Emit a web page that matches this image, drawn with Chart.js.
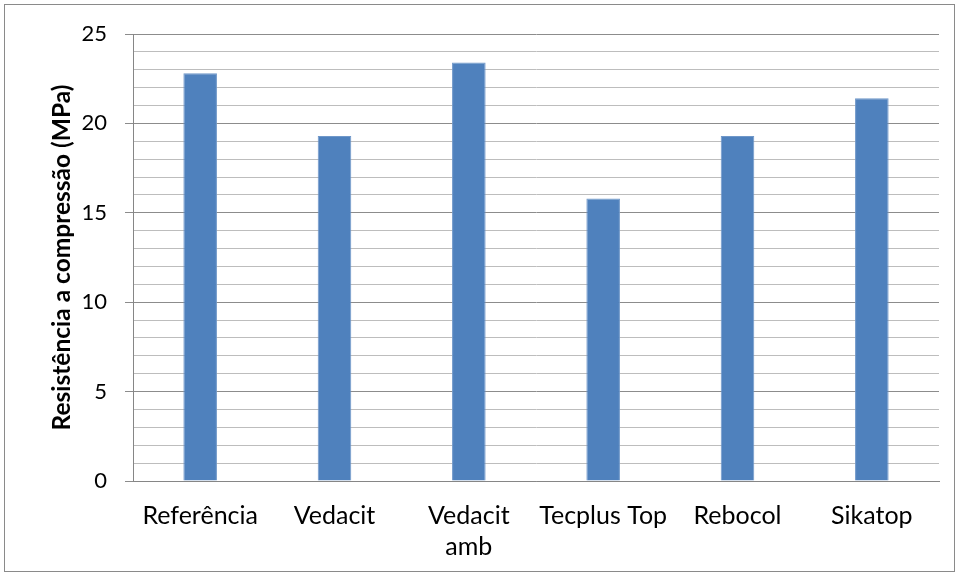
<!DOCTYPE html>
<html>
<head>
<meta charset="utf-8">
<script src="https://cdn.jsdelivr.net/npm/chart.js@4.4.0/dist/chart.umd.min.js"></script>
<style>
  html, body { margin: 0; padding: 0; background: #fff; }
  #wrap { width: 957px; height: 576px; position: relative; }
</style>
</head>
<body>
<div id="wrap"><canvas id="graph-resist"></canvas></div>
<script>
  const categories = ['Referência', 'Vedacit', ['Vedacit', 'amb'], 'Tecplus Top', 'Rebocol', 'Sikatop'];
  const resistencia = [22.8, 19.3, 23.4, 15.8, 19.3, 21.4];
  const yLabelsShown = [0, 5, 10, 15, 20, 25];

  // gray frame around the whole chart, like the Excel chart area
  const frame = {
    id: 'frame',
    afterDraw: (chart) => {
      const c = chart.ctx;
      c.save();
      c.strokeStyle = '#8a8a8a';
      c.lineWidth = 1;
      c.strokeRect(4.5, 4.5, 950, 567);
      c.restore();
    }
  };

  const data = {
    labels: categories,
    datasets: [
      {
        label: 'Resistência',
        data: resistencia,
        backgroundColor: '#4F81BD',
        borderColor: '#6f97c9',
        borderWidth: 1,
        categoryPercentage: 1,
        barPercentage: 0.25
      }
    ]
  };

  const config = {
    type: 'bar',
    data: data,
    plugins: [frame],
    options: {
      responsive: true,
      maintainAspectRatio: false,
      animation: false,
      layout: { padding: { top: 34, right: 18, bottom: 0, left: 0 } },
      plugins: {
        legend: { display: false },
        tooltip: { enabled: false }
      },
      scales: {
        x: {
          grid: { display: false, drawTicks: false },
          border: { color: '#868686', width: 1 },
          ticks: {
            color: '#000',
            font: { family: 'Lato', size: 25, lineHeight: 1.26 },
            padding: 19,
            maxRotation: 0,
            autoSkip: false
          },
          afterFit: (scale) => { scale.height = 95; }
        },
        y: {
          min: 0,
          max: 25,
          grid: {
            color: (ctx) => (ctx.tick && ctx.tick.value % 5 === 0) ? '#8c8c8c' : '#bdbdbd',
            tickColor: (ctx) => (ctx.tick && ctx.tick.value % 5 === 0) ? '#8c8c8c' : 'rgba(0,0,0,0)',
            tickLength: 8,
            lineWidth: 1
          },
          border: { color: '#868686', width: 1 },
          ticks: {
            stepSize: 1,
            autoSkip: false,
            color: '#000',
            padding: 18,
            font: { family: 'Lato', size: 22 },
            callback: (v) => yLabelsShown.includes(v) ? v : ''
          },
          title: {
            display: true,
            text: 'Resistência a compressão (MPa)',
            color: '#000',
            font: { family: 'Lato', size: 24.5, weight: 'bold' },
            padding: { top: 47, bottom: 0 }
          },
          afterFit: (scale) => { scale.width = 133; }
        }
      }
    }
  };

  const ctx = document.getElementById('graph-resist').getContext('2d');
  new Chart(ctx, config);
</script>
</body>
</html>
